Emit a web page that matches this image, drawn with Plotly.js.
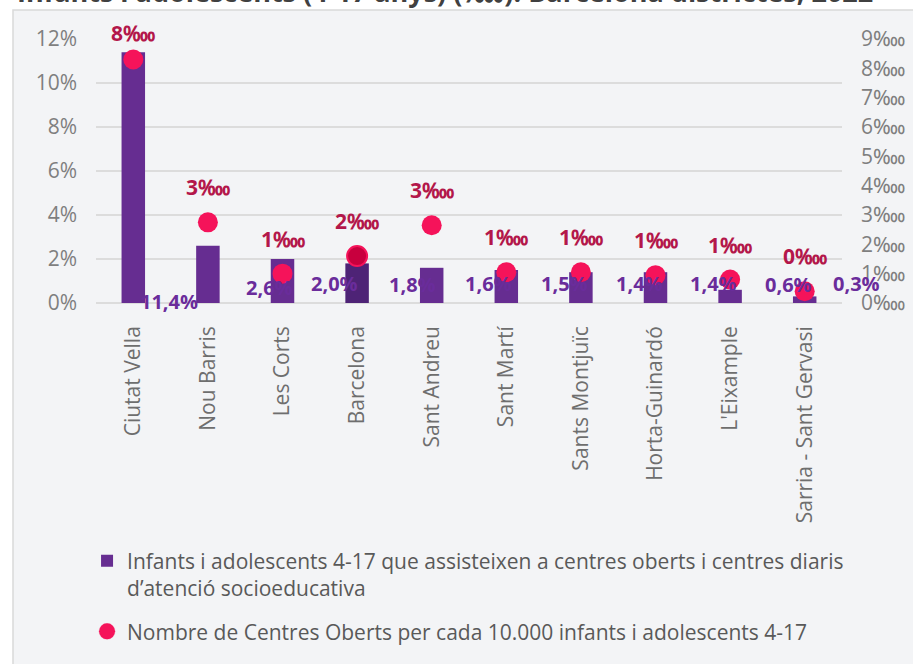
<!DOCTYPE html>
<html>
<head>
<meta charset="utf-8">
<script src="https://cdn.plot.ly/plotly-3.0.1.min.js"></script>
<style>
html,body{margin:0;padding:0;background:#ffffff;}
#chart{width:913px;height:664px;}
</style>
</head>
<body>
<div id="chart"></div>
<script>
// ---------- DATA ----------
const categories = ['Ciutat Vella','Nou Barris','Les Corts','Barcelona','Sant Andreu','Sant Martí','Sants Montjuïc','Horta-Guinardó',"L'Eixample",'Sarria - Sant Gervasi'];
const barValues = [11.4, 2.6, 2.0, 1.8, 1.6, 1.5, 1.4, 1.4, 0.6, 0.3];
const barLabels = ['11,4%','2,6%','2,0%','1,8%','1,6%','1,5%','1,4%','1,4%','0,6%','0,3%'];
const pointValues = [8.3, 2.75, 1.0, 1.6, 2.65, 1.05, 1.05, 0.95, 0.8, 0.4];
const pointLabels = ['8‱','3‱','1‱','2‱','3‱','1‱','1‱','1‱','1‱','0‱'];
const leftTicks = [0, 2, 4, 6, 8, 10, 12];
const leftTickText = ['0%','2%','4%','6%','8%','10%','12%'];
const rightTicks = [0,1,2,3,4,5,6,7,8,9];
const rightTickText = ['0‱','1‱','2‱','3‱','4‱','5‱','6‱','7‱','8‱','9‱'];
const barName = 'Infants i adolescents 4-17 que assisteixen a centres oberts i centres diaris<br>d’atenció socioeducativa';
const pointName = 'Nombre de Centres Oberts per cada 10.000 infants i adolescents 4-17';
const titleText = 'Infants i adolescents (4-17 anys) (‱). Barcelona districtes, 2022';

// ---------- STYLE / LAYOUT ----------
const FONT = 'Open Sans, sans-serif';
const BAR = '#662D91', BAR_HL = '#4E2376';
const PT = '#F5135A', PT_HL = '#C8003E';
const LBL_BAR = '#6A2C9B', LBL_PT = '#B3174A';
const highlight = 'Barcelona';
const N = categories.length;

// label placement tweaks (offset from category centre, in category units / left-axis units)
const barLabelDx = [0.48, 0.83, 0.70, 0.74, 0.76, 0.78, 0.78, 0.78, 0.78, 0.70];
const barLabelY  = [0.05, 0.72, 0.90, 0.82, 0.90, 0.90, 0.90, 0.90, 0.82, 0.90];

const annotations = [];
categories.forEach((c, i) => {
  annotations.push({
    xref:'paper', yref:'y', x: (i + 0.5 + barLabelDx[i]) / N, y: barLabelY[i],
    xanchor:'center', yanchor:'middle',
    text: barLabels[i], showarrow:false,
    font:{family:FONT, size:20, color:LBL_BAR, weight:'bold'}
  });
  annotations.push({
    xref:'x', yref:'y2', x: i, y: pointValues[i],
    yshift: pointValues[i] > 8 ? 27 : 35,
    text: pointLabels[i], showarrow:false,
    font:{family:FONT, size:21, color:LBL_PT, weight:'bold'}
  });
});
annotations.push({
  xref:'paper', yref:'paper', x:0.468, y:1.181, xanchor:'center', yanchor:'middle',
  text: titleText, showarrow:false,
  font:{family:FONT, size:27, color:'#404040', weight:'bold'}
});

const traces = [
  {
    type:'bar', x: categories, y: barValues, name: barName, legendgroup:'a',
    marker:{color: categories.map(c => c === highlight ? BAR_HL : BAR)},
    width: 0.315
  },
  {
    type:'scatter', mode:'markers', x: categories, y: pointValues, yaxis:'y2', name: pointName, legendgroup:'b',
    marker:{
      size: 20,
      color: categories.map(c => c === highlight ? PT_HL : PT),
      line:{width: categories.map(c => c === highlight ? 2 : 0), color: PT}
    }
  }
];

const layout = {
  width: 913, height: 664,
  margin:{l:96, r:71, t:39, b:361},
  paper_bgcolor:'#ffffff',
  plot_bgcolor:'rgba(0,0,0,0)',
  font:{family:FONT, size:21, color:'#7F7F7F'},
  showlegend:true,
  legend:{
    orientation:'v', x:-0.012, y:-0.90, xanchor:'left', yanchor:'top',
    font:{family:FONT, size:21, color:'#595959'},
    bgcolor:'rgba(0,0,0,0)', valign:'top', traceorder:'grouped', tracegroupgap:13, itemwidth:30
  },
  xaxis:{
    type:'category', tickangle:-90, showgrid:false, zeroline:false, showline:false,
    ticks:'', ticklabelstandoff:18,
    tickfont:{family:FONT, size:21, color:'#6E6E6E'},
    range:[-0.5, N - 0.5]
  },
  yaxis:{
    range:[0,12], tickvals:leftTicks, ticktext:leftTickText,
    showgrid:true, gridcolor:'#DCDCDC', gridwidth:1.5,
    zeroline:true, zerolinecolor:'#DCDCDC', zerolinewidth:1.5,
    showline:false, ticks:'', ticklabelstandoff:18,
    tickfont:{family:FONT, size:21, color:'#7F7F7F'}
  },
  yaxis2:{
    overlaying:'y', side:'right', range:[0,9], tickvals:rightTicks, ticktext:rightTickText,
    showgrid:false, zeroline:false, showline:false, ticks:'', ticklabelstandoff:18,
    tickfont:{family:FONT, size:21, color:'#7F7F7F'}
  },
  shapes:[{
    type:'rect', xref:'paper', yref:'paper', layer:'below',
    x0:(13-96)/746, x1:1.3, y0:-2, y1:(303-10)/264,
    fillcolor:'#F3F4F6', line:{color:'#D9D9D9', width:1.5}
  }],
  annotations: annotations,
  hovermode:false
};

Plotly.newPlot('chart', traces, layout, {displayModeBar:false, staticPlot:true});
</script>
</body>
</html>
